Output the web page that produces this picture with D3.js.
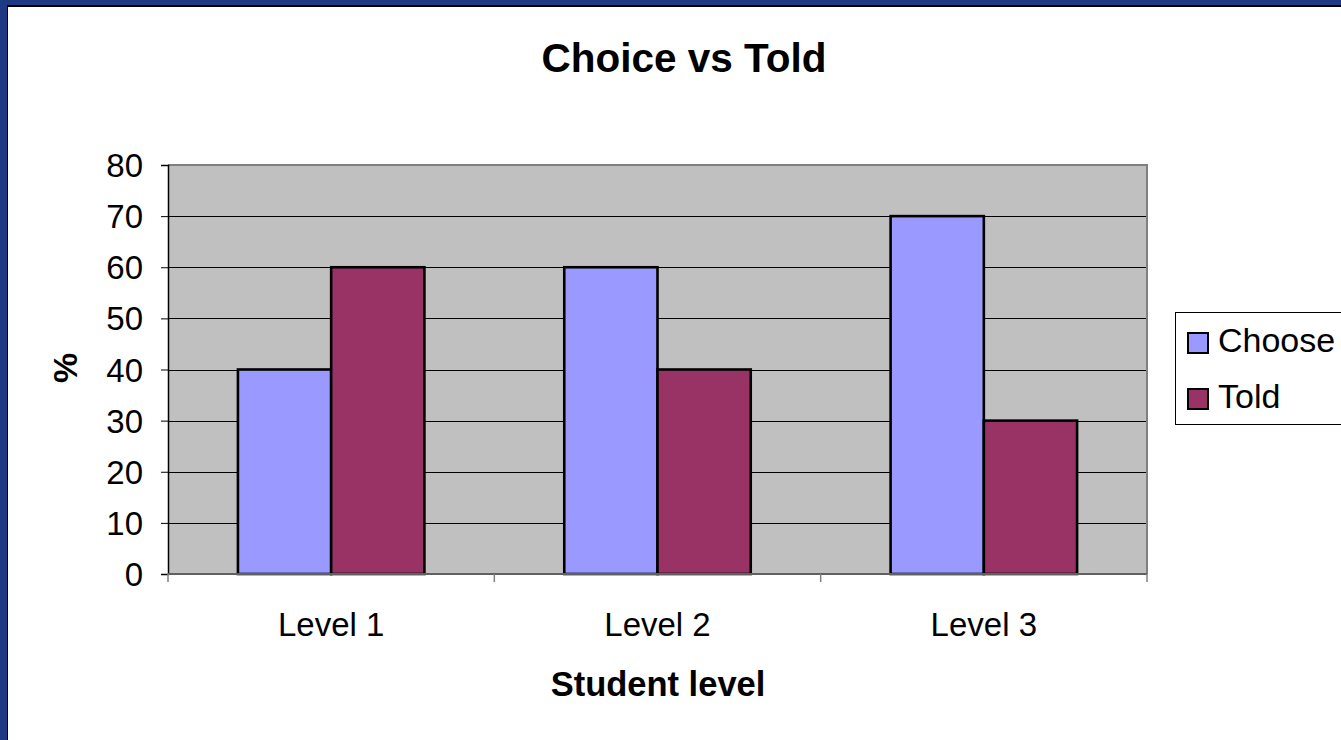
<!DOCTYPE html>
<html>
<head>
<meta charset="utf-8">
<script src="https://cdn.jsdelivr.net/npm/d3@7"></script>
<style>
  html, body { margin: 0; padding: 0; background: #fff; }
  svg { display: block; }
  text { font-family: "Liberation Sans", Arial, sans-serif; fill: #000; }
</style>
</head>
<body>
<svg id="chart" width="1341" height="740"></svg>
<script>
const categories = ["Level 1", "Level 2", "Level 3"];
const seriesNames = ["Choose", "Told"];
const chooseValues = [40, 60, 70];
const toldValues = [60, 40, 30];
const yTicks = [0, 10, 20, 30, 40, 50, 60, 70, 80];
const colors = ["#9999FF", "#993366"];

const svg = d3.select("#chart");
const W = 1341, H = 740;

// slide frame
svg.append("rect").attr("x", 0).attr("y", 0).attr("width", W).attr("height", H).attr("fill", "#1f3a84");
svg.append("rect").attr("x", 7).attr("y", 5).attr("width", W - 7).attr("height", H - 5).attr("fill", "#000");
svg.append("rect").attr("x", 8).attr("y", 7).attr("width", W - 8).attr("height", H - 7).attr("fill", "#fff");

const plot = { left: 168, right: 1147, top: 165, bottom: 574 };

const x0 = d3.scaleBand().domain(categories).range([plot.left, plot.right]).padding(0);
const x1 = d3.scaleBand().domain(seriesNames).range([0, x0.bandwidth()]).paddingInner(0).paddingOuter(0.75);
const y = d3.scaleLinear().domain([0, 80]).range([plot.bottom, plot.top]);

// plot background
svg.append("rect")
  .attr("x", plot.left).attr("y", plot.top)
  .attr("width", plot.right - plot.left).attr("height", plot.bottom - plot.top)
  .attr("fill", "#c0c0c0");

// gridlines
svg.append("g").selectAll("line").data(yTicks.filter(d => d > 0 && d < 80)).join("line")
  .attr("x1", plot.left).attr("x2", plot.right)
  .attr("y1", d => Math.round(y(d)) + 0.5).attr("y2", d => Math.round(y(d)) + 0.5)
  .attr("stroke", "#000").attr("stroke-width", 1);

// plot border top & right
svg.append("path")
  .attr("d", `M${plot.left},${plot.top} H${plot.right} V${plot.bottom}`)
  .attr("fill", "none").attr("stroke", "#808080").attr("stroke-width", 2);

// bars
const data = categories.map((c, i) => ({ cat: c, vals: [chooseValues[i], toldValues[i]] }));
const groups = svg.append("g").selectAll("g").data(data).join("g")
  .attr("transform", d => `translate(${x0(d.cat)},0)`);
groups.selectAll("rect").data(d => d.vals.map((v, j) => ({ s: seriesNames[j], v, j }))).join("rect")
  .attr("x", d => x1(d.s)).attr("y", d => y(d.v))
  .attr("width", x1.bandwidth()).attr("height", d => y(0) - y(d.v))
  .attr("fill", d => colors[d.j]).attr("stroke", "#000").attr("stroke-width", 2.6);

// y axis
const yAxis = d3.axisLeft(y).tickValues(yTicks).tickSize(7).tickPadding(18).tickFormat(d3.format("d"));
const gy = svg.append("g").attr("transform", `translate(${plot.left},0)`).call(yAxis);
gy.select(".domain").attr("stroke", "#000").attr("stroke-width", 1.5);
gy.selectAll(".tick line").attr("stroke", "#000").attr("stroke-width", 1);
gy.selectAll(".tick text").attr("font-size", 33).attr("font-family", "Liberation Sans, Arial, sans-serif").attr("dy", "0.35em");

// x axis
const gx = svg.append("g").attr("transform", `translate(0,${plot.bottom})`);
gx.append("line").attr("x1", plot.left).attr("x2", plot.right).attr("y1", 0).attr("y2", 0)
  .attr("stroke", "#606060").attr("stroke-width", 2);
const xTickPos = categories.map(c => x0(c)).concat([plot.right]);
gx.selectAll("line.t").data(xTickPos).join("line").attr("class", "t")
  .attr("x1", d => d).attr("x2", d => d).attr("y1", 0).attr("y2", 8)
  .attr("stroke", "#808080").attr("stroke-width", 1.5);
gx.selectAll("text").data(categories).join("text")
  .attr("x", d => x0(d) + x0.bandwidth() / 2).attr("y", 62)
  .attr("text-anchor", "middle").attr("font-size", 33).text(d => d);

// titles
svg.append("text").attr("x", 684).attr("y", 72).attr("text-anchor", "middle")
  .attr("font-size", 40.5).attr("font-weight", "bold").text("Choice vs Told");
svg.append("text").attr("x", 658).attr("y", 696).attr("text-anchor", "middle")
  .attr("font-size", 34.5).attr("font-weight", "bold").text("Student level");
svg.append("text").attr("transform", "translate(77,368) rotate(-90)").attr("text-anchor", "middle")
  .attr("font-size", 34).attr("font-weight", "bold").text("%");

// legend
const lg = svg.append("g");
lg.append("rect").attr("x", 1175.5).attr("y", 312.5).attr("width", 200).attr("height", 112)
  .attr("fill", "#fff").attr("stroke", "#000").attr("stroke-width", 1);
const items = lg.selectAll("g").data(seriesNames).join("g")
  .attr("transform", (d, i) => `translate(1188,${333 + i * 56})`);
items.append("rect").attr("x", 0).attr("y", 0).attr("width", 20).attr("height", 20)
  .attr("fill", (d, i) => colors[i]).attr("stroke", "#000").attr("stroke-width", 2);
items.append("text").attr("x", 30).attr("y", 19).attr("font-size", 34).text(d => d);
</script>
</body>
</html>
